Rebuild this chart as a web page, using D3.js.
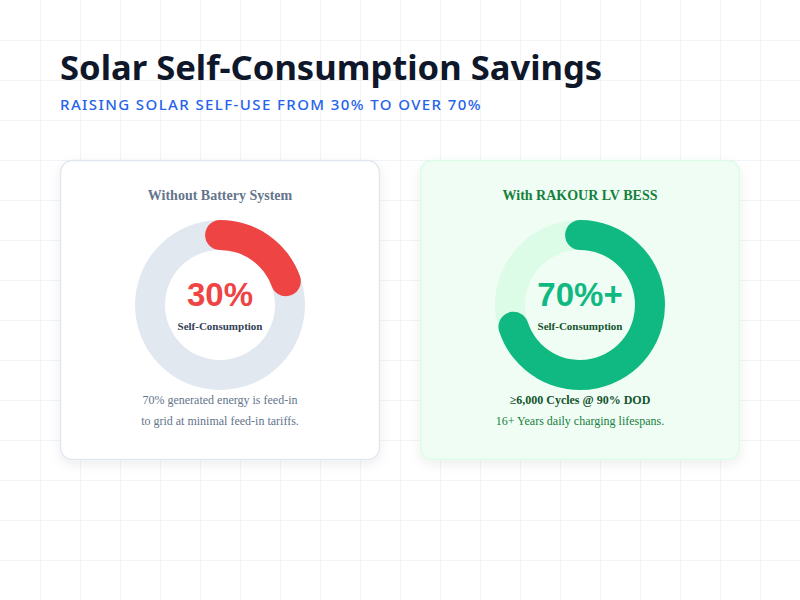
<!DOCTYPE html>
<html>
<head>
  <meta charset="utf-8">
  <title>Solar Self-Consumption Savings</title>
  <script src="https://d3js.org/d3.v7.min.js"></script>
  <style>
  body {
    margin: 0;
    background: #ffffff;
  }
  svg {
    display: block;
  }
  </style>
</head>
<body>

  <div id='container'></div>

  <script>

  // values
  const panels = ['Without Battery System', 'With RAKOUR LV BESS']
  const shareLabels = ['30%', '70%+']
  const arcShare = [0.195, 0.70]   // arc length drawn in the picture, share of the ring
  const centerLabel = 'Self-Consumption'
  const noteLines = [
    ['70% generated energy is feed-in', 'to grid at minimal feed-in tariffs.'],
    ['\u22656,000 Cycles @ 90% DOD', '16+ Years daily charging lifespans.']
  ]

  const width = 800
  const height = 600

  const theme = [
    { card: '#ffffff', border: '#e2e8f0', title: '#64748b', track: '#e2e8f0', arc: '#ef4444',
      center: '#334155', note0: '#64748b', note0Weight: 'normal', note1: '#64748b' },
    { card: '#f0fdf4', border: '#dcfce7', title: '#15803d', track: '#dcfce7', arc: '#10b981',
      center: '#14532d', note0: '#14532d', note0Weight: 'bold', note1: '#15803d' }
  ]

  var svg = d3.select('#container')
    .append('svg')
    .attr('width', width)
    .attr('height', height)

  var defs = svg.append('defs')
  var shadow = defs.append('filter')
    .attr('id', 'cardShadow')
    .attr('x', '-10%').attr('y', '-10%')
    .attr('width', '120%').attr('height', '125%')
  shadow.append('feDropShadow')
    .attr('dx', 0).attr('dy', 4)
    .attr('stdDeviation', 6)
    .attr('flood-color', '#0f172a')
    .attr('flood-opacity', 0.07)

  // background grid
  var grid = svg.append('g')
  d3.range(40, width, 40).forEach(function(x){
    grid.append('line')
      .attr('x1', x + 0.5).attr('x2', x + 0.5)
      .attr('y1', 0).attr('y2', height)
      .style('stroke', '#f1f5f9')
  })
  d3.range(40, height, 40).forEach(function(y){
    grid.append('line')
      .attr('y1', y + 0.5).attr('y2', y + 0.5)
      .attr('x1', 0).attr('x2', width)
      .style('stroke', '#f1f5f9')
  })

  // heading
  svg.append('text')
    .attr('x', 60)
    .attr('y', 80)
    .style('font-family', '"Noto Sans", "Open Sans", sans-serif')
    .style('font-weight', 700)
    .style('font-size', '34.6px')
    .style('fill', '#0f172a')
    .text('Solar Self-Consumption Savings')

  svg.append('text')
    .attr('x', 60)
    .attr('y', 110)
    .style('font-family', '"Noto Sans", "Open Sans", sans-serif')
    .style('font-weight', 500)
    .style('font-size', '15px')
    .style('letter-spacing', '1.4px')
    .style('fill', '#2563eb')
    .text('RAISING SOLAR SELF-USE FROM 30% TO OVER 70%')

  var xScale = d3.scaleBand()
    .domain(panels)
    .range([60, 740])
    .paddingInner(40 / 360)

  var angle = d3.scaleLinear()
    .domain([0, 1])
    .range([0, 2 * Math.PI])

  const cardTop = 160
  const cardHeight = 300
  const rInner = 55
  const rOuter = 85
  const capAngle = ((rOuter - rInner) / 2) / ((rOuter + rInner) / 2)

  var ring = d3.arc()
    .innerRadius(rInner)
    .outerRadius(rOuter)
    .cornerRadius((rOuter - rInner) / 2)

  var cards = svg.selectAll('.card')
    .data(panels)
    .enter()
    .append('g')
    .classed('card', true)
    .attr('transform', (d) => 'translate(' + xScale(d) + ',' + cardTop + ')')

  cards.append('rect')
    .attr('x', 0.5).attr('y', 0.5)
    .attr('width', xScale.bandwidth() - 1)
    .attr('height', cardHeight - 1)
    .attr('rx', 12)
    .attr('filter', 'url(#cardShadow)')
    .style('fill', (d, i) => theme[i].card)
    .style('stroke', (d, i) => theme[i].border)
    .style('stroke-width', 1.5)

  cards.append('text')
    .attr('x', xScale.bandwidth() / 2)
    .attr('y', 40)
    .attr('text-anchor', 'middle')
    .style('font-family', '"Liberation Serif", "Times New Roman", serif')
    .style('font-weight', 700)
    .style('font-size', '14px')
    .style('fill', (d, i) => theme[i].title)
    .text((d) => d)

  var donut = cards.append('g')
    .attr('transform', 'translate(' + (xScale.bandwidth() / 2) + ',145)')

  donut.append('path')
    .attr('d', ring({ startAngle: 0, endAngle: 2 * Math.PI }))
    .style('fill', (d, i) => theme[i].track)

  donut.append('path')
    .attr('d', (d, i) => ring({
      startAngle: angle(0) - capAngle,
      endAngle: angle(arcShare[i]) + capAngle
    }))
    .style('fill', (d, i) => theme[i].arc)

  donut.append('text')
    .attr('y', 1)
    .attr('text-anchor', 'middle')
    .style('font-family', '"Liberation Sans", Arial, sans-serif')
    .style('font-weight', 700)
    .style('font-size', '33px')
    .style('fill', (d, i) => theme[i].arc)
    .text((d, i) => shareLabels[i])

  donut.append('text')
    .attr('y', 25)
    .attr('text-anchor', 'middle')
    .style('font-family', '"Liberation Serif", "Times New Roman", serif')
    .style('font-weight', 700)
    .style('font-size', '11px')
    .style('fill', (d, i) => theme[i].center)
    .text(centerLabel)

  cards.append('text')
    .attr('x', xScale.bandwidth() / 2)
    .attr('y', 244)
    .attr('text-anchor', 'middle')
    .style('font-family', '"Liberation Serif", "Times New Roman", serif')
    .style('font-size', '12px')
    .style('font-weight', (d, i) => theme[i].note0Weight)
    .style('fill', (d, i) => theme[i].note0)
    .text((d, i) => noteLines[i][0])

  cards.append('text')
    .attr('x', xScale.bandwidth() / 2)
    .attr('y', 265)
    .attr('text-anchor', 'middle')
    .style('font-family', '"Liberation Serif", "Times New Roman", serif')
    .style('font-size', '12px')
    .style('fill', (d, i) => theme[i].note1)
    .text((d, i) => noteLines[i][1])

  </script>
</body>
</html>
